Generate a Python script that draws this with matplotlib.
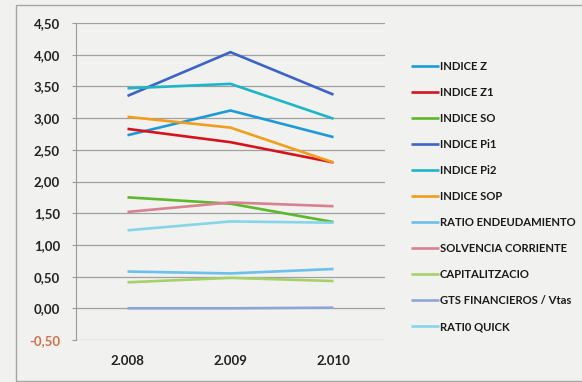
import matplotlib
matplotlib.use("Agg")
import matplotlib.pyplot as plt
from matplotlib.patches import Rectangle

years = ["2.008", "2.009", "2.010"]

indice_z = [2.73, 3.12, 2.70]
indice_z1 = [2.83, 2.62, 2.30]
indice_so = [1.75, 1.65, 1.36]
indice_pi1 = [3.35, 4.04, 3.37]
indice_pi2 = [3.47, 3.54, 2.99]
indice_sop = [3.02, 2.85, 2.30]
ratio_endeudamiento = [0.58, 0.55, 0.62]
solvencia_corriente = [1.52, 1.67, 1.61]
capitalitzacio = [0.41, 0.48, 0.43]
gts_financieros = [0.00, 0.00, 0.01]
ratio_quick = [1.23, 1.37, 1.35]

series_names = ["INDICE Z", "INDICE Z1", "INDICE SO", "INDICE Pi1", "INDICE Pi2",
                "INDICE SOP", "RATIO ENDEUDAMIENTO", "SOLVENCIA CORRIENTE",
                "CAPITALITZACIO", "GTS FINANCIEROS / Vtas", "RATI0 QUICK"]
series_values = [indice_z, indice_z1, indice_so, indice_pi1, indice_pi2, indice_sop,
                 ratio_endeudamiento, solvencia_corriente, capitalitzacio,
                 gts_financieros, ratio_quick]
series_colors = ["#1e9ad6", "#d3151c", "#5db82c", "#3c63c6", "#1db6c6", "#f09e1c",
                 "#6cc0ea", "#d9818f", "#a7d06a", "#8ea5d8", "#86d6e8"]

y_ticks = [-0.5, 0, 0.5, 1, 1.5, 2, 2.5, 3, 3.5, 4, 4.5]
y_labels = ["-0,50", "0,00", "0,50", "1,00", "1,50", "2,00", "2,50", "3,00",
            "3,50", "4,00", "4,50"]

plt.rcParams["font.family"] = ["Lato", "DejaVu Sans"]

bg = "#f1f1ef"
fig = plt.figure(figsize=(5.82, 3.82), dpi=100, facecolor=bg)

# outer chart frame
fig.patches.append(Rectangle((16 / 582, 1 - 381 / 382), 1.2, (381 - 5) / 382,
                             transform=fig.transFigure, fill=False,
                             edgecolor="#a5a5a5", linewidth=1.0))

ax = fig.add_axes([76 / 582, 1 - 340 / 382, (385 - 76) / 582, (340 - 23) / 382])
ax.set_facecolor(bg)

x = list(range(len(years)))
handles = []
for name, vals, col in zip(series_names, series_values, series_colors):
    h, = ax.plot(x, vals, color=col, linewidth=1.9, label=name,
                 solid_capstyle="butt", solid_joinstyle="miter")
    handles.append(h)

ax.set_xlim(-0.5, 2.5)
ax.set_ylim(-0.5, 4.5)
ax.set_yticks(y_ticks)
ax.set_yticklabels(y_labels, fontsize=9.5, fontweight="bold", color="#222222")
ax.get_yticklabels()[0].set_color("#d0704f")
ax.set_xticks(x)
ax.set_xticklabels(years, fontsize=9.5, fontweight="bold", color="#222222")
ax.tick_params(axis="y", length=3, color="#9a9a9a", pad=8.5)
ax.tick_params(axis="x", length=0, pad=11)
ax.grid(axis="y", color="#a0a0a0", linewidth=0.9)
ax.set_axisbelow(True)
for side in ["top", "right", "bottom"]:
    ax.spines[side].set_visible(False)
ax.spines["left"].set_color("#9a9a9a")

fig.legend(handles=handles, labels=series_names, loc="upper left",
           bbox_to_anchor=(406 / 582, 1 - 56 / 382), frameon=False,
           fontsize=8.15, handlelength=2.55, handletextpad=0.05,
           labelspacing=1.33, borderaxespad=0)
for t in fig.legends[0].get_texts():
    t.set_fontweight("bold")
    t.set_color("#1a1a1a")

fig.savefig("out.png", dpi=100, facecolor=bg)
